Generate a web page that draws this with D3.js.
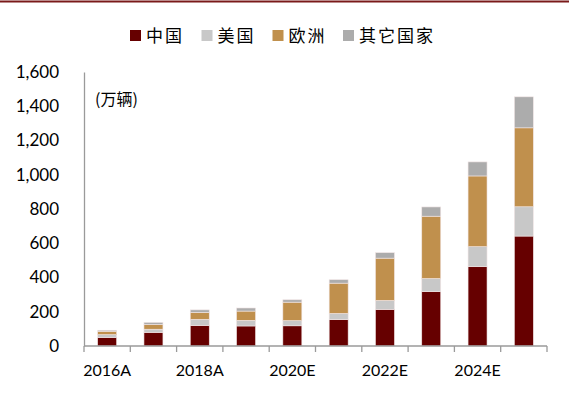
<!DOCTYPE html>
<html>
<head>
<meta charset="utf-8">
<script src="https://cdn.jsdelivr.net/npm/d3@7/dist/d3.min.js"></script>
<style>
  html, body { margin: 0; padding: 0; background: #fff; }
  svg { display: block; }
</style>
</head>
<body>
<svg id="chart" width="569" height="397"></svg>
<script>
const categories = ["2016A","2017A","2018A","2019E","2020E","2021E","2022E","2023E","2024E","2025E"];
const xTickLabels = ["2016A","2018A","2020E","2022E","2024E"];
const seriesNames = ["中国","美国","欧洲","其它国家"];
const china  = [50, 80, 120, 117, 118, 154, 214, 318, 463, 642];
const usa    = [16, 18, 36, 33, 30, 36, 52, 76, 117, 171];
const europe = [20, 28, 40, 54, 108, 177, 247, 364, 413, 461];
const others = [6, 12, 15, 18, 14, 20, 32, 54, 82, 181];
const yTicks = [0, 200, 400, 600, 800, 1000, 1200, 1400, 1600];
const unitLabel = "(万辆)";
const colors = ["#660000", "#c8c8c8", "#c0904d", "#acacac"];

const svg = d3.select("#chart");
const W = 569, H = 397;
const m = {left: 84, right: 22, top: 72, bottom: 51};

const rows = categories.map((c, i) => ({cat: c, "中国": china[i], "美国": usa[i], "欧洲": europe[i], "其它国家": others[i]}));
const stack = d3.stack().keys(seriesNames)(rows);

const x = d3.scaleBand().domain(categories).range([m.left, W - m.right]).paddingInner(0.59).paddingOuter(0.295);
const y = d3.scaleLinear().domain([0, 1600]).range([H - m.bottom, m.top]);

// top border line
svg.append("line").attr("x1", 0).attr("x2", W).attr("y1", 1.5).attr("y2", 1.5)
  .attr("stroke", "#7a1a1a").attr("stroke-width", 2);

// bars
svg.append("g").selectAll("g").data(stack).join("g")
  .attr("fill", (d, i) => colors[i])
  .selectAll("rect").data(d => d).join("rect")
  .attr("x", d => x(d.data.cat))
  .attr("width", x.bandwidth())
  .attr("y", d => y(d[1]))
  .attr("height", d => y(d[0]) - y(d[1]))
  .attr("stroke", "#f2e6e6").attr("stroke-width", 0.6);

// y axis
const yAxis = svg.append("g").attr("transform", `translate(${m.left},0)`)
  .call(d3.axisLeft(y).tickValues(yTicks).tickSize(0).tickPadding(25).tickFormat(d3.format(",")));
yAxis.select(".domain").attr("stroke", "#9a9a9a").attr("stroke-width", 1.3);
yAxis.selectAll("text").attr("font-family", "Lato, 'Open Sans', sans-serif").attr("font-size", 17).attr("fill", "#000");

// x axis
const xAxisG = svg.append("g").attr("transform", `translate(0,${H - m.bottom})`);
xAxisG.append("line").attr("x1", m.left).attr("x2", W - m.right).attr("stroke", "#9a9a9a").attr("stroke-width", 1.3);
const step = x.step();
const boundaries = d3.range(categories.length + 1).map(i => m.left + i * step);
xAxisG.selectAll("line.tick").data(boundaries).join("line").attr("class", "tick")
  .attr("x1", d => d).attr("x2", d => d).attr("y1", 0).attr("y2", 6)
  .attr("stroke", "#9a9a9a").attr("stroke-width", 1.3);
xAxisG.selectAll("text").data(xTickLabels).join("text")
  .attr("x", d => x(d) + x.bandwidth() / 2)
  .attr("y", 30)
  .attr("text-anchor", "middle")
  .attr("font-family", "Lato, 'Open Sans', sans-serif").attr("font-size", 16)
  .attr("fill", "#000")
  .text(d => d);

// unit label
svg.append("text").attr("x", 95).attr("y", 105)
  .attr("font-family", "'Noto Sans CJK SC', sans-serif").attr("font-size", 16)
  .attr("fill", "#000").text(unitLabel);

// legend
const legendX = [130, 201.5, 272.5, 343];
const lg = svg.append("g");
seriesNames.forEach((s, i) => {
  const g = lg.append("g").attr("transform", `translate(${legendX[i]},30)`);
  g.append("rect").attr("width", 11).attr("height", 11).attr("fill", colors[i]);
  g.append("text").attr("x", 16).attr("y", 12)
    .attr("font-family", "'Noto Sans CJK SC', serif").attr("font-size", 17)
    .attr("letter-spacing", 2)
    .attr("fill", "#000").text(s);
});
</script>
</body>
</html>
